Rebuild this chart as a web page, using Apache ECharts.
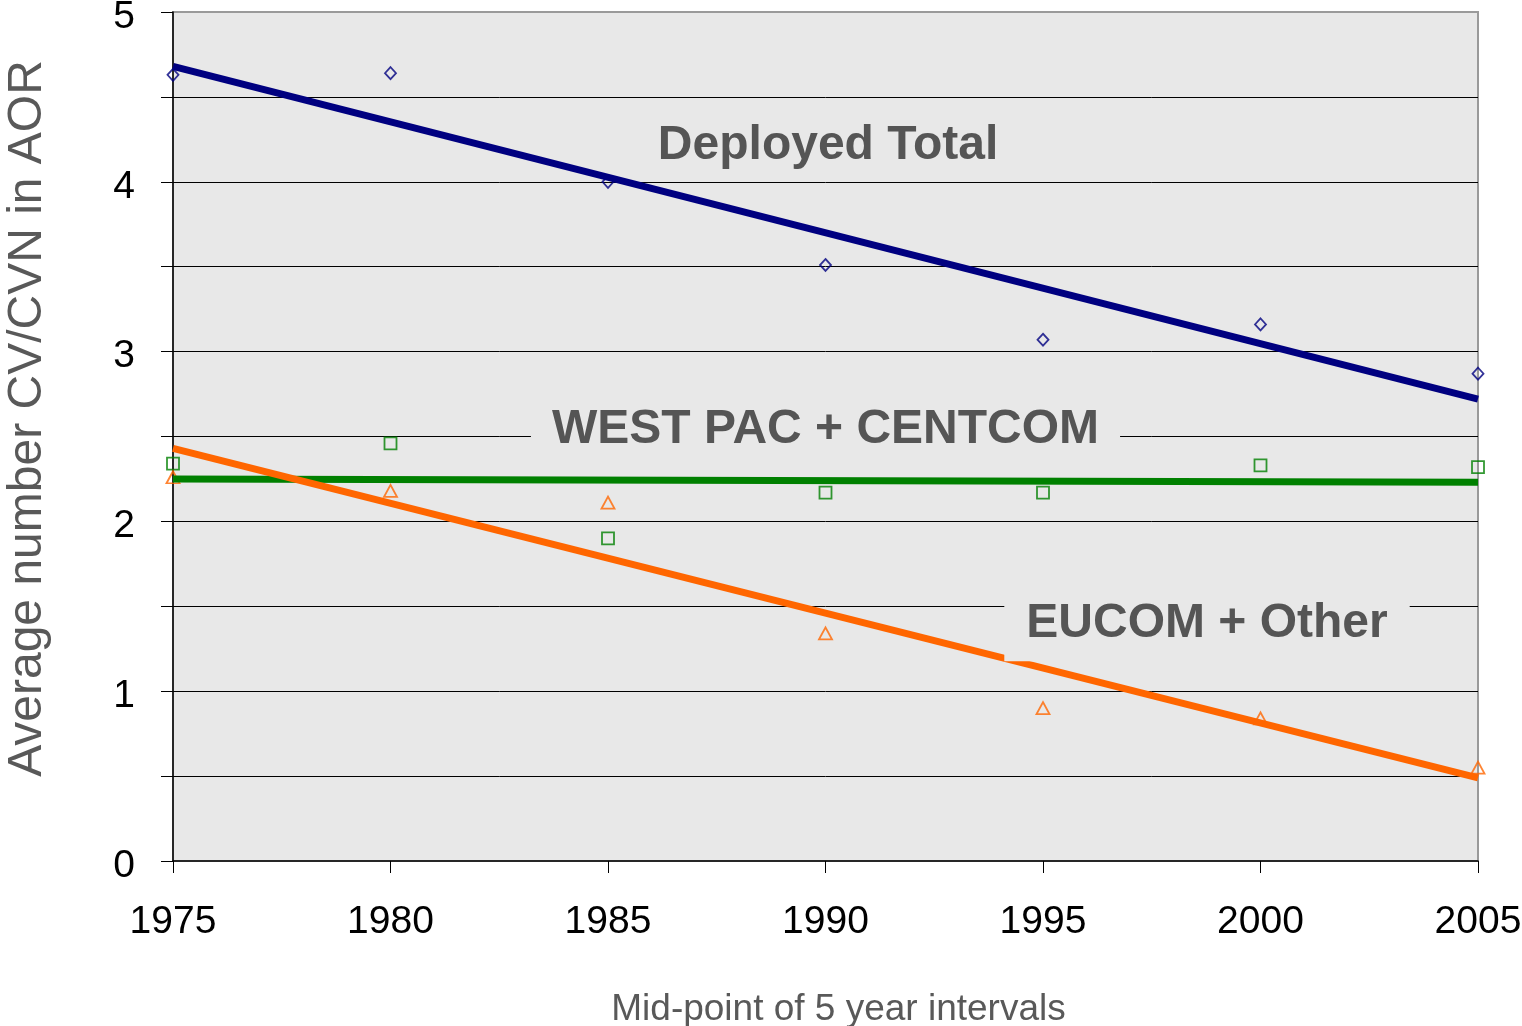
<!DOCTYPE html>
<html><head><meta charset="utf-8">
<script src="https://cdn.jsdelivr.net/npm/echarts@6/dist/echarts.min.js"></script>
<style>html,body{margin:0;padding:0;background:#fff}#c{width:1522px;height:1026px}</style>
</head><body><div id="c"></div>
<script>
const years = [1975, 1980, 1985, 1990, 1995, 2000, 2005];
const deployedTotal = [4.63, 4.64, 4.00, 3.51, 3.07, 3.16, 2.87];
const westPacCentcom = [2.34, 2.46, 1.90, 2.17, 2.17, 2.33, 2.32];
const eucomOther = [2.26, 2.18, 2.11, 1.34, 0.90, 0.84, 0.55];
const trendYears = [1975, 2005];
const deployedTrend = [4.68, 2.72];
const westPacTrend = [2.25, 2.23];
const eucomTrend = [2.43, 0.49];
const yTicks = [0, 1, 2, 3, 4, 5];
const labelTexts = ['Deployed Total', 'WEST PAC + CENTCOM', 'EUCOM + Other'];
const labelAnchors = [[1990.06, 4.212], [1990.0, 2.538], [1998.77, 1.395]];

const pair = (xs, ys) => xs.map((x, i) => [x, ys[i]]);
const font = '"Liberation Sans", Arial, sans-serif';
const chart = echarts.init(document.getElementById('c'), null, {renderer: 'canvas'});

function scatter(name, data, symbol, size, color) {
  return {type: 'scatter', name, data, symbol, symbolSize: size, z: 2, animation: false,
    itemStyle: {color: 'rgba(0,0,0,0)', borderColor: color, borderWidth: 1.8}};
}
function trend(name, data, color) {
  return {type: 'line', name, data, showSymbol: false, z: 3, animation: false,
    lineStyle: {color, width: 7}, itemStyle: {color}};
}

chart.setOption({
  animation: false,
  grid: {left: 173, right: 44, top: 12, bottom: 165, outerBoundsMode: 'none', containLabel: false,
    show: true, backgroundColor: '#e8e8e8', borderColor: '#9a9a9a', borderWidth: 2},
  xAxis: {type: 'value', min: 1975, max: 2005, interval: 5,
    axisLine: {lineStyle: {color: '#000', width: 1.5}},
    axisTick: {show: true, length: 12, lineStyle: {color: '#000'}},
    splitLine: {show: false},
    axisLabel: {color: '#000', fontSize: 39, fontFamily: font, margin: 42, formatter: v => String(v)},
    name: 'Mid-point of 5 year intervals', nameLocation: 'middle', nameGap: 130,
    nameTextStyle: {color: '#595959', fontSize: 37, fontFamily: font, padding: [0, 0, 0, 26]}},
  yAxis: {type: 'value', min: 0, max: 5, interval: 0.5,
    axisLine: {show: true, lineStyle: {color: '#000', width: 1.5}},
    axisTick: {show: true, length: 12, lineStyle: {color: '#000'}},
    splitLine: {show: true, showMinLine: false, showMaxLine: false, lineStyle: {color: '#000', width: 1}},
    axisLabel: {color: '#000', fontSize: 39, fontFamily: font, margin: 38,
      formatter: v => (yTicks.indexOf(v) >= 0 ? '{t|' + v + '}' : ''),
      rich: {t: {color: '#000', fontSize: 39, fontFamily: font, lineHeight: 39, padding: [10, 0, 0, 0]}}},
    name: 'Average number CV/CVN in AOR', nameLocation: 'middle', nameGap: 121,
    nameTextStyle: {color: '#595959', fontSize: 48, fontFamily: font, padding: [0, 0, 0, 36]}},
  series: [
    scatter('Deployed Total', pair(years, deployedTotal), 'diamond', [11, 12], '#000080'),
    scatter('WEST PAC + CENTCOM', pair(years, westPacCentcom), 'rect', 12, '#008000'),
    scatter('EUCOM + Other', pair(years, eucomOther), 'triangle', [13, 12], '#ff6600'),
    trend('Deployed Trend', pair(trendYears, deployedTrend), '#000080'),
    trend('WEST PAC Trend', pair(trendYears, westPacTrend), '#008000'),
    trend('EUCOM Trend', pair(trendYears, eucomTrend), '#ff6600')
  ]
});

const pads = [[4, 10], [6, 21], [13, 22]];
const bgs = [null, '#e8e8e8', '#e8e8e8'];
const graphics = labelTexts.map((t, i) => {
  const p = chart.convertToPixel({gridIndex: 0}, labelAnchors[i]);
  const style = {text: t, x: p[0], y: p[1], align: 'center', verticalAlign: 'middle',
    fill: '#555555', font: 'bold 48px ' + font, lineHeight: 48, padding: pads[i]};
  if (bgs[i]) style.backgroundColor = bgs[i];
  return {type: 'text', z: 10, style};
});
chart.setOption({graphic: graphics});
</script></body></html>
